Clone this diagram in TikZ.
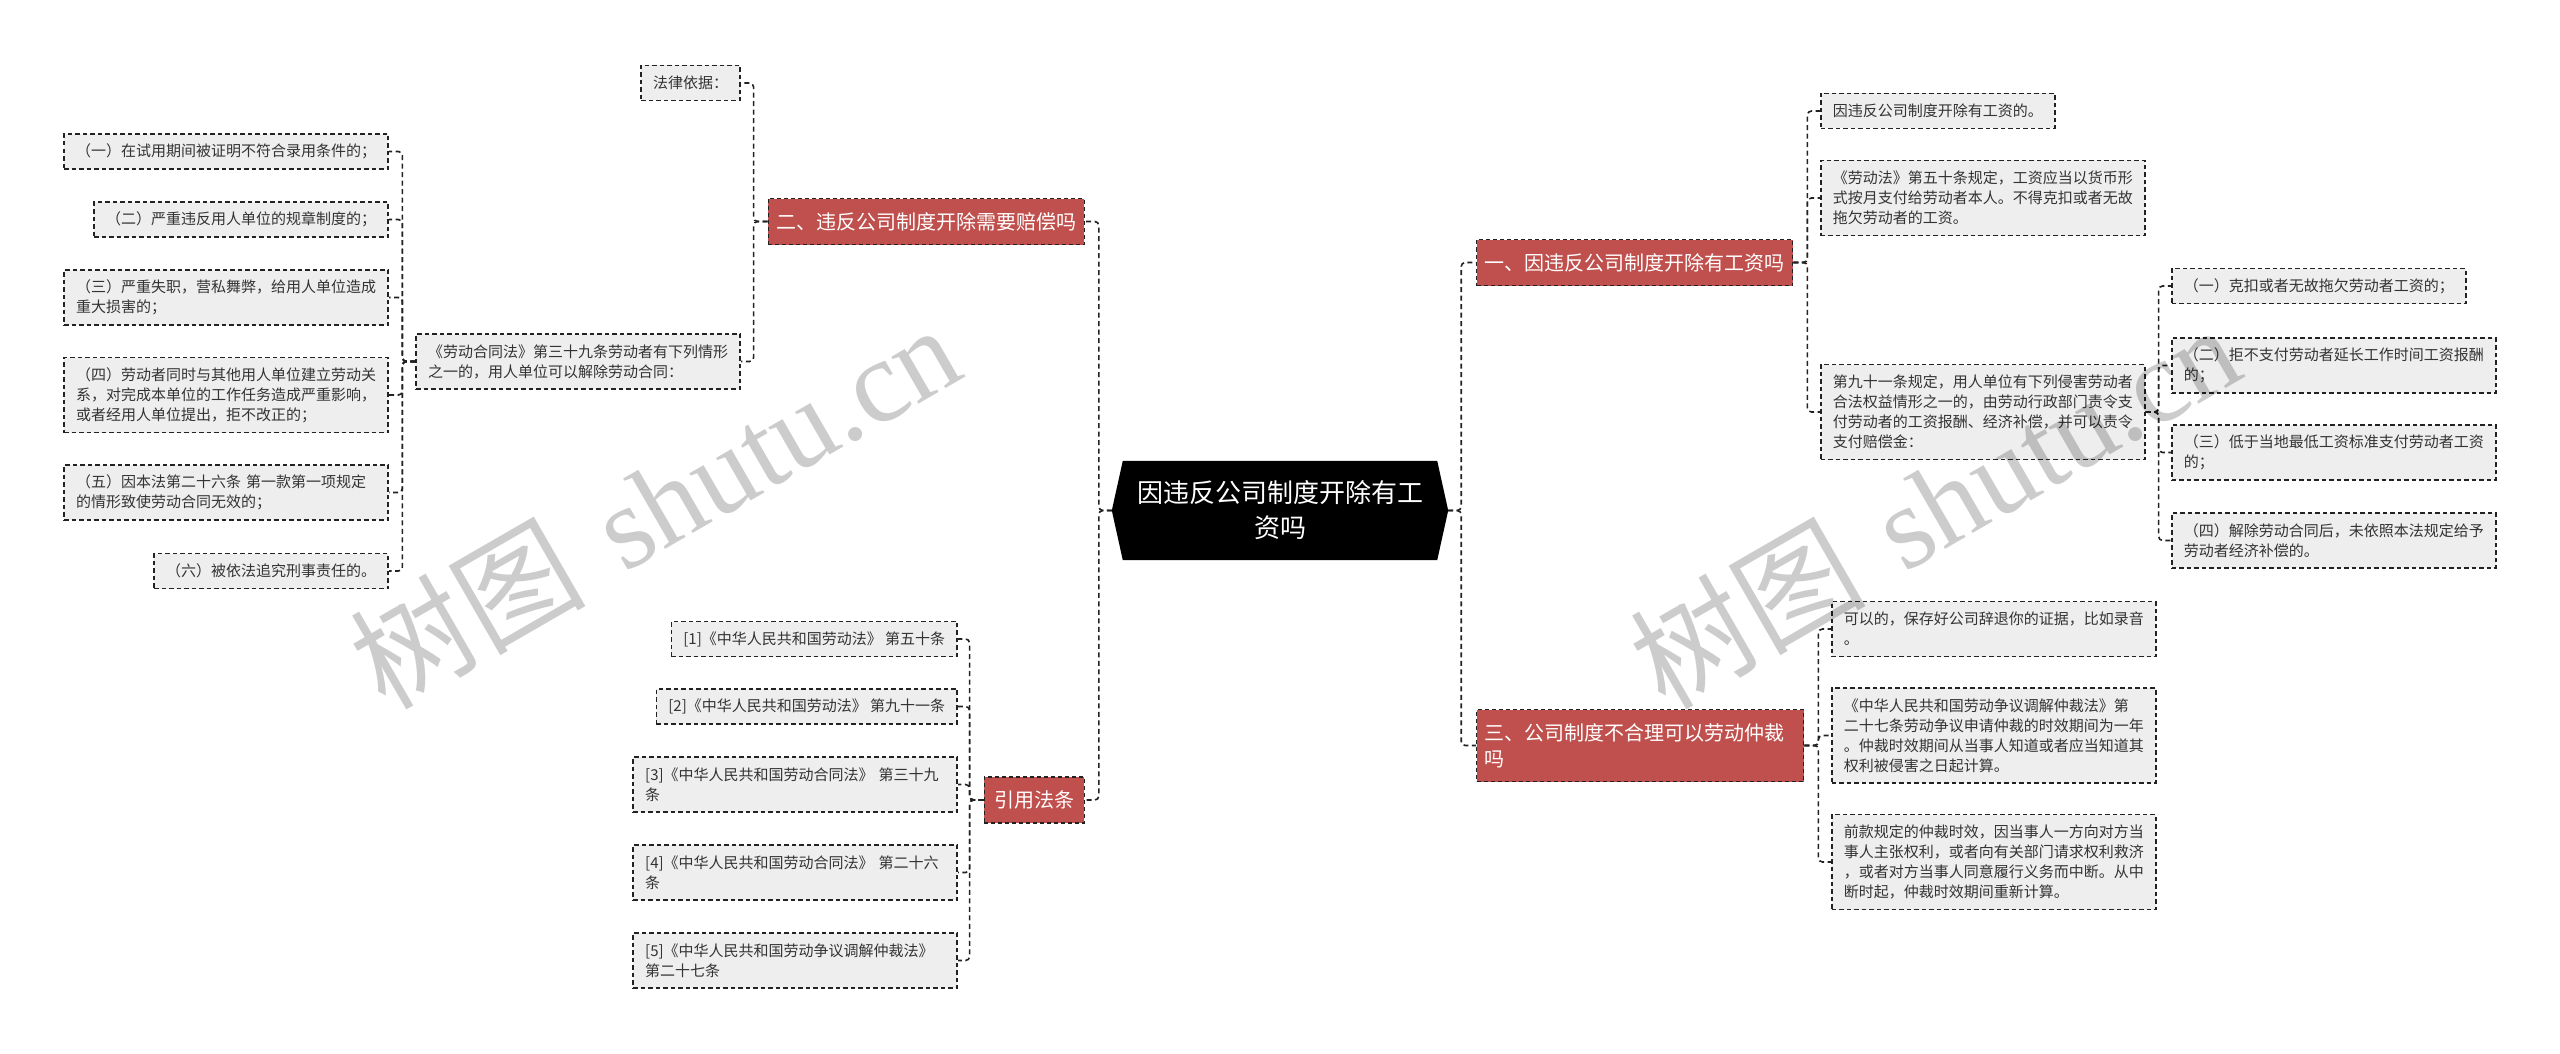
\documentclass[tikz,border=0pt]{standalone}
\usepackage{fontspec}
\newfontfamily\cjk{Noto Sans CJK SC}
\newfontfamily\wmserif{Liberation Serif}
\usetikzlibrary{calc}
\definecolor{redfill}{RGB}{192,80,77}
\definecolor{leaffill}{RGB}{238,238,238}
\definecolor{ink}{RGB}{34,34,34}
\definecolor{txt}{RGB}{51,51,51}
\begin{document}
\begin{tikzpicture}[x=1pt,y=-1pt,
  leaf/.style={draw=ink, line width=1.6pt, dash pattern=on 4.5pt off 3pt, fill=leaffill,
    font=\cjk\fontsize{15}{20}\selectfont, text=txt, inner xsep=12pt, inner ysep=3pt,
    align=left, minimum height=35pt},
  leafw/.style={leaf, text width=300pt},
  two/.style={minimum height=55pt},
  three/.style={minimum height=75pt},
  four/.style={minimum height=95pt},
  redn/.style={draw=ink, line width=1.4pt, dash pattern=on 4pt off 3pt, fill=redfill,
    text=white, font=\cjk\fontsize{20}{26}\selectfont, inner xsep=8pt, inner ysep=3pt,
    minimum height=46pt, align=left},
  conn/.style={draw=ink, line width=1.6pt, dash pattern=on 5pt off 3.5pt, rounded corners=4pt},
  wm/.style={anchor=base west, rotate=30, text=black, text opacity=0.2, inner sep=0pt}
]
\useasboundingbox[fill=white] (0,0) rectangle (2560,1054);

% central node
\node[minimum width=336pt, minimum height=99pt, inner sep=0pt] (c) at (1280,510.5) {};
\fill[black] (c.west) -- ($(c.north west)+(11,0)$) -- ($(c.north east)+(-11,0)$) -- (c.east)
  -- ($(c.south east)+(-11,0)$) -- ($(c.south west)+(11,0)$) -- cycle;
\node[font=\cjk\fontsize{26}{35}\selectfont, text=white, align=center] (ct) at (c.center) {因违反公司制度开除有工\\资吗};

% level 1
\node[redn, anchor=east] (n2) at (1085,221.5) {二、违反公司制度开除需要赔偿吗};
\node[redn, anchor=east, inner xsep=10pt] (ny) at (1085,800) {引用法条};
\node[redn, anchor=west] (n1) at (1476,262.5) {一、因违反公司制度开除有工资吗};
\node[redn, anchor=west, text width=311pt, minimum height=72pt] (n3) at (1476,745.5) {三、公司制度不合理可以劳动仲裁\\吗};

% left branch: 二
\node[leaf, anchor=east] (lb) at (741,83) {法律依据：};
\node[leafw, two, anchor=east] (law) at (741,361.5) {《劳动合同法》第三十九条劳动者有下列情形\\之一的，用人单位可以解除劳动合同：};
\node[leaf, anchor=east] (l1) at (389,151.5) {（一）在试用期间被证明不符合录用条件的；};
\node[leaf, anchor=east] (l2) at (389,219.5) {（二）严重违反用人单位的规章制度的；};
\node[leafw, two, anchor=east] (l3) at (389,297.5) {（三）严重失职，营私舞弊，给用人单位造成\\重大损害的；};
\node[leafw, three, anchor=east] (l4) at (389,395) {（四）劳动者同时与其他用人单位建立劳动关\\系，对完成本单位的工作任务造成严重影响，\\或者经用人单位提出，拒不改正的；};
\node[leafw, two, anchor=east] (l5) at (389,492.5) {（五）因本法第二十六条 第一款第一项规定\\的情形致使劳动合同无效的；};
\node[leaf, anchor=east] (l6) at (389,571) {（六）被依法追究刑事责任的。};

% left branch: 引用法条
\node[leaf, anchor=east] (y1) at (958,639) {[1]《中华人民共和国劳动法》 第五十条};
\node[leaf, anchor=east] (y2) at (958,706.5) {[2]《中华人民共和国劳动法》 第九十一条};
\node[leafw, two, anchor=east] (y3) at (958,784.5) {[3]《中华人民共和国劳动合同法》 第三十九\\条};
\node[leafw, two, anchor=east] (y4) at (958,872.5) {[4]《中华人民共和国劳动合同法》 第二十六\\条};
\node[leafw, two, anchor=east] (y5) at (958,960.5) {[5]《中华人民共和国劳动争议调解仲裁法》\\第二十七条};

% right branch: 一
\node[leaf, anchor=west] (r1) at (1820,111) {因违反公司制度开除有工资的。};
\node[leafw, three, anchor=west] (r2) at (1820,198) {《劳动法》第五十条规定，工资应当以货币形\\式按月支付给劳动者本人。不得克扣或者无故\\拖欠劳动者的工资。};
\node[leafw, four, anchor=west] (r3) at (1820,412) {第九十一条规定，用人单位有下列侵害劳动者\\合法权益情形之一的，由劳动行政部门责令支\\付劳动者的工资报酬、经济补偿，并可以责令\\支付赔偿金：};
\node[leaf, anchor=west] (s1) at (2171,286) {（一）克扣或者无故拖欠劳动者工资的；};
\node[leafw, two, anchor=west] (s2) at (2171,365.5) {（二）拒不支付劳动者延长工作时间工资报酬\\的；};
\node[leafw, two, anchor=west] (s3) at (2171,452.5) {（三）低于当地最低工资标准支付劳动者工资\\的；};
\node[leafw, two, anchor=west] (s4) at (2171,540.5) {（四）解除劳动合同后，未依照本法规定给予\\劳动者经济补偿的。};

% right branch: 三
\node[leafw, two, anchor=west] (t1) at (1831,629) {可以的，保存好公司辞退你的证据，比如录音\\。};
\node[leafw, four, anchor=west] (t2) at (1831,735.5) {《中华人民共和国劳动争议调解仲裁法》第\\二十七条劳动争议申请仲裁的时效期间为一年\\。仲裁时效期间从当事人知道或者应当知道其\\权利被侵害之日起计算。};
\node[leafw, four, anchor=west] (t3) at (1831,862) {前款规定的仲裁时效，因当事人一方向对方当\\事人主张权利，或者向有关部门请求权利救济\\，或者对方当事人同意履行义务而中断。从中\\断时起，仲裁时效期间重新计算。};

% connectors
\foreach \t in {n2,ny} \draw[conn] (c.west) -- ++(-13,0) |- (\t.east);
\foreach \t in {n1,n3} \draw[conn] (c.east) -- ++(13,0) |- (\t.west);
\foreach \t in {lb,law} \draw[conn] (n2.west) -- ++(-14,0) |- (\t.east);
\foreach \t in {l1,l2,l3,l4,l5,l6} \draw[conn] (law.west) -- ++(-13,0) |- (\t.east);
\foreach \t in {y1,y2,y3,y4,y5} \draw[conn] (ny.west) -- ++(-14,0) |- (\t.east);
\foreach \t in {r1,r2,r3} \draw[conn] (n1.east) -- ++(14,0) |- (\t.west);
\foreach \t in {s1,s2,s3,s4} \draw[conn] (r3.east) -- ++(13,0) |- (\t.west);
\foreach \t in {t1,t2,t3} \draw[conn] (n3.east) -- ++(14,0) |- (\t.west);

% watermarks
\node[wm] (wm1) at (385,712) {{\cjk\fontsize{118}{118}\selectfont 树图}\hspace{40pt}{\wmserif\fontsize{118}{118}\selectfont shutu.cn}};
\node[wm] (wm2) at (1665,712) {{\cjk\fontsize{118}{118}\selectfont 树图}\hspace{40pt}{\wmserif\fontsize{118}{118}\selectfont shutu.cn}};
\end{tikzpicture}
\end{document}
